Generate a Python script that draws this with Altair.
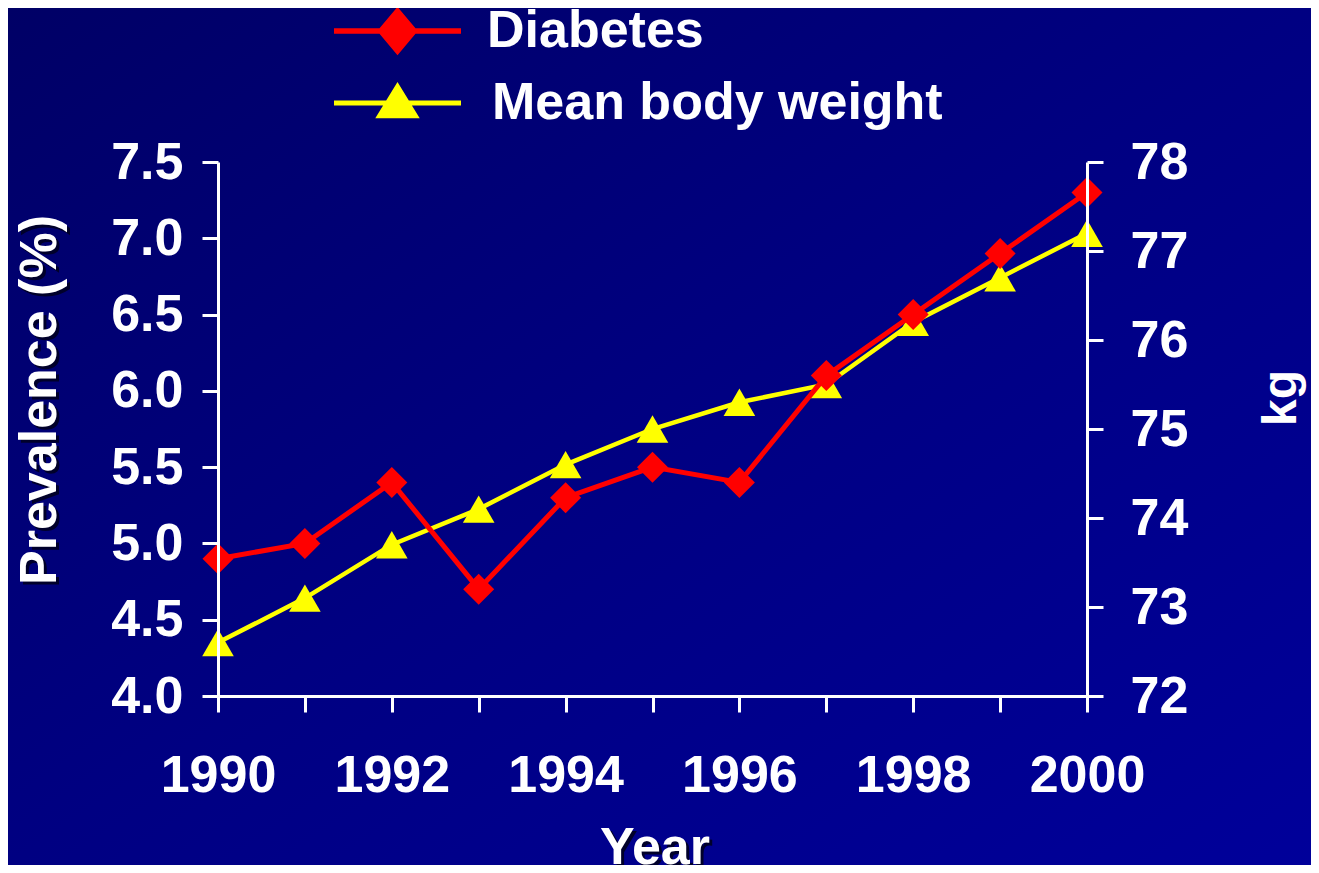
import altair as alt
import pandas as pd

years = [1990, 1991, 1992, 1993, 1994, 1995, 1996, 1997, 1998, 1999, 2000]
diabetes = [4.9, 5.0, 5.4, 4.7, 5.3, 5.5, 5.4, 6.1, 6.5, 6.9, 7.3]
weight = [72.6, 73.1, 73.7, 74.1, 74.6, 75.0, 75.3, 75.5, 76.2, 76.7, 77.2]
left_ticks = [4.0, 4.5, 5.0, 5.5, 6.0, 6.5, 7.0, 7.5]
right_ticks = [72, 73, 74, 75, 76, 77, 78]

df = pd.DataFrame({"year": years, "diabetes": diabetes, "weight": weight})

FONT = "Liberation Sans"
WHITE = "#FFFFFF"
RED = "#FF0000"
YELLOW = "#FFFF00"
BG = "#000080"

W, H = 869, 534
PAD = {"left": 210, "top": 154, "right": 224, "bottom": 169}

AX = dict(domainColor=WHITE, domainWidth=3, tickColor=WHITE, tickWidth=3, tickSize=16,
          labelColor=WHITE, labelFont=FONT, labelFontWeight="bold", grid=False,
          labelFontSize=52, zindex=1, title=None)

x_enc = alt.X(
    "year:Q",
    scale=alt.Scale(domain=[1990, 2000], nice=False, zero=False),
    axis=alt.Axis(
        values=years, format="d",
        labelExpr="datum.value % 2 == 0 ? datum.label : ''",
        labelPadding=38, labelFlush=False, labelOverlap=False, **AX,
    ),
)

y_left = alt.Y(
    "diabetes:Q",
    scale=alt.Scale(domain=[4.0, 7.5], nice=False, zero=False),
    axis=alt.Axis(orient="left", values=left_ticks, format=".1f",
                  labelPadding=19, **AX),
)
y_right = alt.Y(
    "weight:Q",
    scale=alt.Scale(domain=[72, 78], nice=False, zero=False),
    axis=alt.Axis(orient="right", values=right_ticks, format="d",
                  labelPadding=27, **AX),
)

diamond_path = ("M-1,-0.045 L1,-0.045 L1,0.045 L-1,0.045 Z "
                "M-0.32,0 L0,-0.38 L0.32,0 L0,0.38 Z")
triangle_path = ("M-1,-0.04 L1,-0.04 L1,0.04 L-1,0.04 Z "
                 "M0,-0.33 L0.35,0.24 L-0.35,0.24 Z")

def legend(path, y, offset):
    return alt.Legend(
        title=None, orient="none", legendX=116, legendY=y, padding=0,
        symbolType=path, symbolSize=16129, symbolStrokeWidth=0, symbolOpacity=1,
        labelFont=FONT, labelFontWeight="bold", labelFontSize=52,
        labelColor=WHITE, labelOffset=offset, labelLimit=800,
    )

base = alt.Chart(df)

# decorative background gradient covering the whole canvas
bg = alt.Chart(pd.DataFrame({"k": [0]})).mark_rect(
    fill=alt.Gradient(
        gradient="linear", x1=0, y1=0, x2=1, y2=1,
        stops=[alt.GradientStop(offset=0, color="#000066"),
               alt.GradientStop(offset=0.5, color="#000082"),
               alt.GradientStop(offset=1, color="#00009A")],
    )
).encode(
    x=alt.value(-PAD["left"]), x2=alt.value(W + PAD["right"]),
    y=alt.value(-PAD["top"]), y2=alt.value(H + PAD["bottom"]),
)

d_line = base.mark_line(color=RED, strokeWidth=5).encode(x=x_enc, y=y_left)
d_pt = base.transform_calculate(series="'Diabetes'").mark_point(
    shape="diamond", filled=True, size=961, opacity=1
).encode(
    x=x_enc, y=y_left,
    color=alt.Color("series:N", scale=alt.Scale(domain=["Diabetes"], range=[RED]),
                    legend=legend(diamond_path, -194.5, 26)),
)

w_line = base.mark_line(color=YELLOW, strokeWidth=4.5).encode(x=x_enc, y=y_right)
w_pt = base.transform_calculate(series="'Mean body weight'").mark_point(
    shape="triangle-up", filled=True, size=1000, opacity=1
).encode(
    x=x_enc, y=y_right,
    color=alt.Color("series:N", scale=alt.Scale(domain=["Mean body weight"], range=[YELLOW]),
                    legend=legend(triangle_path, -122.5, 31)),
)

def title_text(txt, x, y, angle=0, baseline="middle", shadow=True, size=52):
    layers = []
    t = pd.DataFrame({"t": [txt]})
    if shadow:
        layers.append(alt.Chart(t).mark_text(
            font=FONT, fontWeight="bold", fontSize=size, color="#00002A",
            angle=angle, align="center", baseline=baseline,
        ).encode(x=alt.value(x + 3), y=alt.value(y + 3), text="t:N"))
    layers.append(alt.Chart(t).mark_text(
        font=FONT, fontWeight="bold", fontSize=size, color=WHITE,
        angle=angle, align="center", baseline=baseline,
    ).encode(x=alt.value(x), y=alt.value(y), text="t:N"))
    return layers

titles = (title_text("Prevalence (%)", -178, 238, angle=270)
          + title_text("Year", 437, 702, baseline="alphabetic")
          + title_text("kg", 1064, 236, angle=270, shadow=False, size=48))

left = alt.layer(d_line, d_pt)
right = alt.layer(w_line, w_pt)

chart = alt.layer(bg, right, left, *titles).resolve_scale(
    y="independent", color="independent"
).resolve_legend(color="independent").properties(
    width=W, height=H,
    autosize=alt.AutoSizeParams(type="none"),
    padding=PAD,
    background=BG,
).configure_view(strokeWidth=0)

chart.save("out.html", embed_options={"renderer": "svg", "actions": False})
